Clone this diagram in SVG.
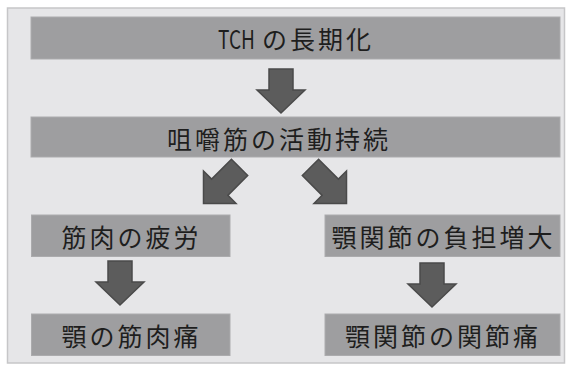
<svg xmlns="http://www.w3.org/2000/svg" width="578" height="365" viewBox="0 0 578 365">
<style>
.box{fill:#9e9ea0;stroke:#ababad;stroke-width:1}
.t{font-family:"Noto Sans CJK JP","Noto Sans",sans-serif;font-size:25px;fill:#1e1e1e;letter-spacing:3px;dominant-baseline:central}
.arr{fill:#5c5c5c;stroke:#4a4a4a;stroke-width:1.5;stroke-linejoin:miter}
</style>
<defs>
<path id="av" d="M-12,-44 H12 V-23 H24 L0,0 L-24,-23 H-12 Z"/>
<path id="ad" d="M-11.5,-51 H11.5 V-23 H23 L0,0 L-23,-23 H-11.5 Z"/>
</defs>
<rect x="0" y="0" width="578" height="365" fill="#ffffff"/>
<rect x="7.5" y="8" width="557" height="355" fill="#e6e6e8" stroke="#c6c6c8" stroke-width="1.5"/>
<g id="n-tch">
<rect class="box" x="31" y="17" width="529" height="42"/>
<text class="t" x="218" y="38" textLength="37" lengthAdjust="spacingAndGlyphs" style="letter-spacing:0">TCH</text>
<text class="t" x="262" y="38">の長期化</text>
</g>
<g id="n-sosyaku">
<rect class="box" x="31" y="117" width="529" height="40"/>
<text class="t" x="167" y="138">咀嚼筋の活動持続</text>
</g>
<g id="n-hirou">
<rect class="box" x="31.5" y="215" width="198.5" height="41.5"/>
<text class="t" x="61.5" y="236">筋肉の疲労</text>
</g>
<g id="n-futan">
<rect class="box" x="325" y="215" width="235" height="41.5"/>
<text class="t" x="331.5" y="236">顎関節の負担増大</text>
</g>
<g id="n-kinniku">
<rect class="box" x="31.5" y="314" width="198.5" height="41.5"/>
<text class="t" x="61.5" y="335">顎の筋肉痛</text>
</g>
<g id="n-kansetsu">
<rect class="box" x="325" y="314" width="235" height="41.5"/>
<text class="t" x="345" y="335">顎関節の関節痛</text>
</g>
<g id="connectors">
<use href="#av" class="arr" transform="translate(281,113)"/>
<use href="#ad" class="arr" transform="translate(203.5,203.5) rotate(45)"/>
<use href="#ad" class="arr" transform="translate(346.5,203.5) rotate(-45)"/>
<use href="#av" class="arr" transform="translate(120,305)"/>
<use href="#av" class="arr" transform="translate(432,307)"/>
</g>
</svg>
